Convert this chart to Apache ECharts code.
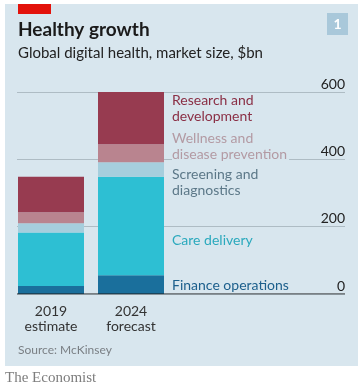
<!DOCTYPE html>
<html><head><meta charset="utf-8">
<script src="https://cdn.jsdelivr.net/npm/echarts@6/dist/echarts.min.js"></script>
<style>html,body{margin:0;padding:0;background:#fff}#c{width:363px;height:392px}</style>
</head><body><div id="c"></div>
<script>
const categories = ['2019\nestimate', '2024\nforecast'];
const finance = [24, 56];
const care = [159, 292];
const screening = [27, 43];
const wellness = [33, 54];
const rnd = [105, 158];
const yTicks = [0, 200, 400, 600];
const seriesNames = ['Finance operations', 'Care delivery', 'Screening and\ndiagnostics', 'Wellness and\ndisease prevention', 'Research and\ndevelopment'];
const colors = ['#1a6f9c', '#2dbfd3', '#a6cedd', '#b9848f', '#973b50'];
const textColors = ['#1c5f8c', '#2aa9bd', '#5c7888', '#b39aa3', '#8a2f45'];
const labelTops = [277.5, 231.75, 165.8, 129.75, 92];

const chart = echarts.init(document.getElementById('c'), null, {renderer: 'canvas'});
const FONT = 'Lato';
const BG = '#d8e6ee';
const data = [finance, care, screening, wellness, rnd];

const graphics = [
  {type: 'rect', z: -10, silent: true, shape: {x: 5, y: 4, width: 353, height: 362}, style: {fill: BG}},
  {type: 'rect', shape: {x: 18, y: 4, width: 33, height: 10}, style: {fill: '#e3120b'}},
  {type: 'rect', shape: {x: 327, y: 13, width: 21, height: 22}, style: {fill: '#a9c8da'}},
  {type: 'text', x: 337.5, y: 24, style: {text: '1', fill: '#fff', font: 'bold 14px ' + FONT, textAlign: 'center', textVerticalAlign: 'middle'}},
  {type: 'text', x: 18, y: 30, style: {text: 'Healthy growth', fill: '#1a1a1a', font: 'bold 19px ' + FONT, textVerticalAlign: 'middle'}},
  {type: 'text', x: 18, y: 53, style: {text: 'Global digital health, market size, $bn', fill: '#222', font: '15px ' + FONT, textVerticalAlign: 'middle'}},
  {type: 'text', x: 18, y: 350, style: {text: 'Source: McKinsey', fill: '#7a7f84', font: '12px ' + FONT, textVerticalAlign: 'middle'}},
  {type: 'text', x: 5, y: 378, style: {text: 'The Economist', fill: '#7d7d7d', font: '15px "Liberation Serif", "DejaVu Serif", serif', textVerticalAlign: 'middle'}}
];
seriesNames.forEach((n, i) => {
  graphics.push({type: 'text', x: 172, y: labelTops[i], z: 10, style: {
    text: n, fill: textColors[i], font: '14px ' + FONT, lineHeight: 16.5,
    textVerticalAlign: 'top', backgroundColor: i === 3 ? BG : null, padding: i === 3 ? [0, 2, 0, 0] : 0
  }});
});

chart.setOption({
  backgroundColor: '#fff',
  animation: false,
  grid: [
    {left: 17, right: 18, top: 92, bottom: 98},
    {left: 11, right: 192, top: 92, bottom: 98}
  ],
  xAxis: [
    {gridIndex: 0, type: 'value', min: 0, max: 1, show: false},
    {gridIndex: 1, type: 'category', data: categories, axisLine: {show: false}, axisTick: {show: false},
      axisLabel: {color: '#333', fontFamily: FONT, fontSize: 14, lineHeight: 15, margin: 10}}
  ],
  yAxis: [
    {gridIndex: 0, type: 'value', min: 0, max: 600, interval: 200, position: 'right',
      axisLine: {show: false}, axisTick: {show: false},
      splitLine: {lineStyle: {color: '#aebcc4', width: 1}},
      axisLabel: {inside: true, margin: 0, color: '#222', fontFamily: FONT, fontSize: 14, verticalAlign: 'bottom', padding: [0, 0, 1, 0],
        formatter: v => yTicks.includes(v) ? String(v) : ''}},
    {gridIndex: 1, type: 'value', min: 0, max: 600, show: false}
  ],
  series: data.map((d, i) => ({
    type: 'bar', xAxisIndex: 1, yAxisIndex: 1, stack: 'total', barWidth: 66,
    data: d, itemStyle: {color: colors[i]}, silent: true
  })).concat([{
    type: 'line', xAxisIndex: 0, yAxisIndex: 0, data: [[0, 0], [1, 0]], symbol: 'none', z: 5,
    lineStyle: {color: '#1a1a1a', width: 1.2}, silent: true
  }]),
  graphic: graphics
});
</script></body></html>
